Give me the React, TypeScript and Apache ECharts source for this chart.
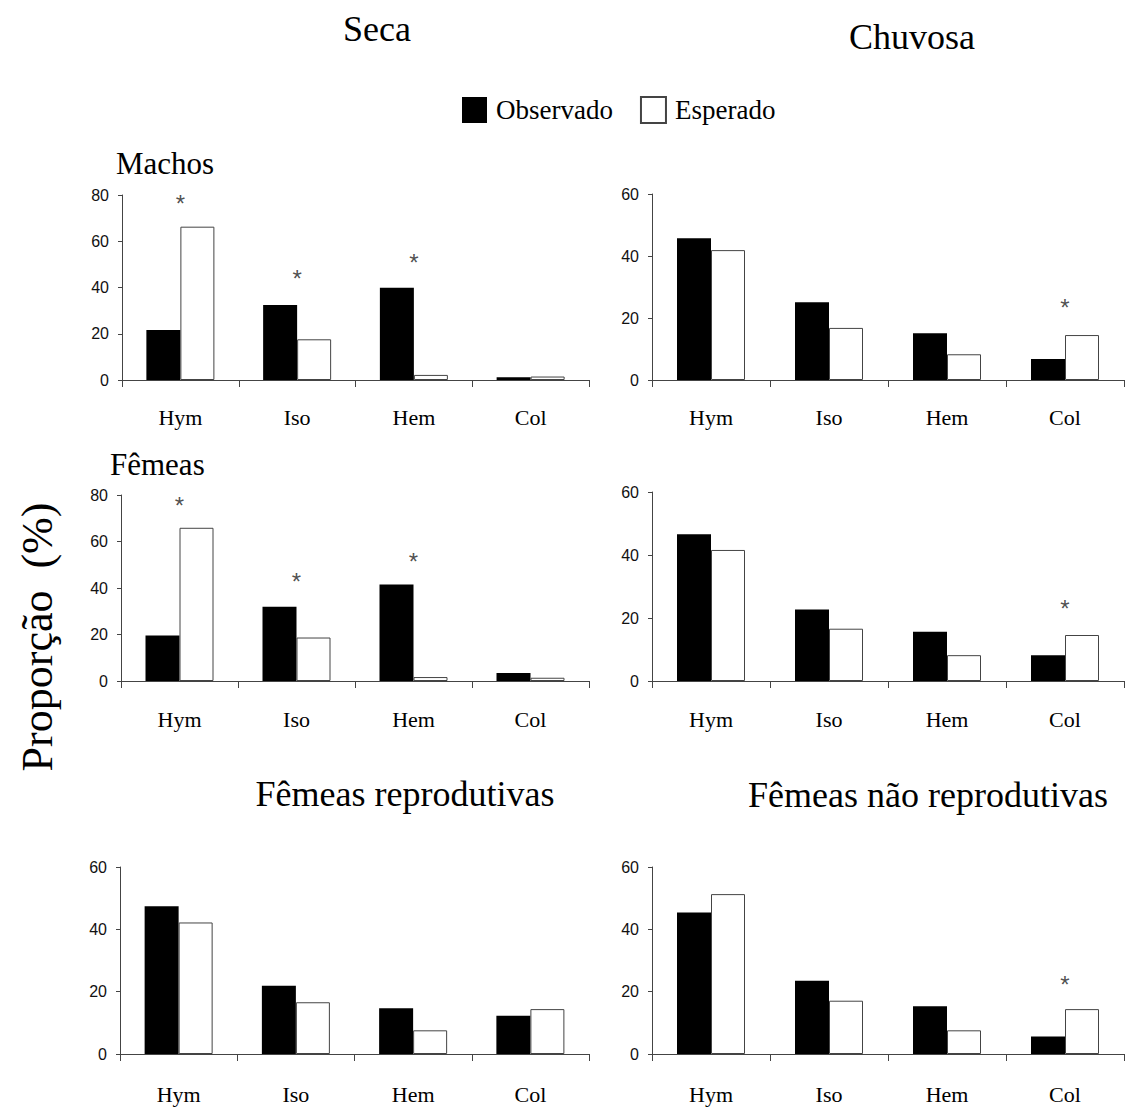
import React, { useEffect, useRef } from "react";
import * as echarts from "echarts";

const categories = ["Hym", "Iso", "Hem", "Col"];
const yTicks80 = [0, 20, 40, 60, 80];
const yTicks60 = [0, 20, 40, 60];

const machosSecaObs = [21.6, 32.4, 39.9, 1.2];
const machosSecaEsp = [66.3, 17.6, 2.2, 1.5];
const machosChuvObs = [45.7, 25.1, 15.1, 6.8];
const machosChuvEsp = [41.9, 16.8, 8.3, 14.5];
const femeasSecaObs = [19.6, 31.9, 41.5, 3.4];
const femeasSecaEsp = [65.9, 18.7, 1.7, 1.4];
const femeasChuvObs = [46.6, 22.7, 15.6, 8.2];
const femeasChuvEsp = [41.6, 16.6, 8.2, 14.6];
const reprodObs = [47.4, 21.9, 14.7, 12.3];
const reprodEsp = [42.2, 16.6, 7.6, 14.4];
const naoReprodObs = [45.4, 23.5, 15.3, 5.6];
const naoReprodEsp = [51.3, 17.1, 7.6, 14.4];

// significance markers: [category, height]
const machosSecaStars = [["Hym", 77.8], ["Iso", 45], ["Hem", 52]];
const machosChuvStars = [["Col", 24.2]];
const femeasSecaStars = [["Hym", 76.6], ["Iso", 44.3], ["Hem", 52.9]];
const femeasChuvStars = [["Col", 24.1]];
const reprodStars: (string | number)[][] = [];
const naoReprodStars = [["Col", 23.2]];

const SERIF = "'Liberation Serif', 'Times New Roman', serif";
const SANS = "'Liberation Sans', Arial, sans-serif";

const panels = [
  { grid: { left: 122, top: 195, width: 467, height: 185 }, max: 80, ticks: yTicks80, obs: machosSecaObs, esp: machosSecaEsp, stars: machosSecaStars, labelMargin: 26 },
  { grid: { left: 652, top: 194, width: 472, height: 186 }, max: 60, ticks: yTicks60, obs: machosChuvObs, esp: machosChuvEsp, stars: machosChuvStars, labelMargin: 26 },
  { grid: { left: 121, top: 495, width: 468, height: 186 }, max: 80, ticks: yTicks80, obs: femeasSecaObs, esp: femeasSecaEsp, stars: femeasSecaStars, labelMargin: 27 },
  { grid: { left: 652, top: 492, width: 472, height: 189 }, max: 60, ticks: yTicks60, obs: femeasChuvObs, esp: femeasChuvEsp, stars: femeasChuvStars, labelMargin: 27 },
  { grid: { left: 120, top: 867, width: 469, height: 187 }, max: 60, ticks: yTicks60, obs: reprodObs, esp: reprodEsp, stars: reprodStars, labelMargin: 29 },
  { grid: { left: 652, top: 867, width: 472, height: 187 }, max: 60, ticks: yTicks60, obs: naoReprodObs, esp: naoReprodEsp, stars: naoReprodStars, labelMargin: 29 },
];

const AXIS_COLOR = "#444";

export default function App() {
  const ref = useRef<HTMLDivElement>(null);
  useEffect(() => {
    if (!ref.current) return;
    const chart = echarts.init(ref.current, undefined, { renderer: "svg" });
    const grids: any[] = [];
    const xAxes: any[] = [];
    const yAxes: any[] = [];
    const series: any[] = [];
    panels.forEach((p, i) => {
      grids.push({ ...p.grid, containLabel: false });
      xAxes.push({
        type: "category",
        gridIndex: i,
        data: categories,
        axisLine: { show: true, lineStyle: { color: AXIS_COLOR, width: 1 } },
        axisTick: { show: true, length: 7, lineStyle: { color: AXIS_COLOR } },
        axisLabel: { fontFamily: SERIF, fontSize: 22, color: "#000", margin: p.labelMargin },
        splitLine: { show: false },
      });
      yAxes.push({
        type: "value",
        gridIndex: i,
        min: 0,
        max: p.max,
        interval: 20,
        axisLine: { show: true, lineStyle: { color: AXIS_COLOR, width: 1 } },
        axisTick: { show: true, length: 4, lineStyle: { color: AXIS_COLOR } },
        axisLabel: { fontFamily: SANS, fontSize: 16, color: "#111", margin: 13 },
        splitLine: { show: false },
      });
      series.push({
        type: "bar",
        name: "Observado",
        xAxisIndex: i,
        yAxisIndex: i,
        data: p.obs,
        barWidth: 34,
        barGap: "0%",
        itemStyle: { color: "#000", borderColor: "#000", borderWidth: 0 },
      });
      series.push({
        type: "bar",
        name: "Esperado",
        xAxisIndex: i,
        yAxisIndex: i,
        data: p.esp,
        barWidth: 34,
        barGap: "0%",
        itemStyle: { color: "#fff", borderColor: "#444", borderWidth: 1 },
      });
      if (p.stars.length) {
        series.push({
          type: "scatter",
          xAxisIndex: i,
          yAxisIndex: i,
          data: p.stars,
          symbol: "circle",
          symbolSize: 1,
          itemStyle: { color: "rgba(0,0,0,0)" },
          silent: true,
          label: {
            show: true,
            position: "inside",
            formatter: "*",
            fontFamily: SANS,
            fontSize: 24,
            color: "#222",
            offset: [0, 3],
          },
        });
      }
    });

    const titleText = (text: string, x: number, y: number, size: number, align = "center") => ({
      type: "text",
      x,
      y,
      style: {
        text,
        fontFamily: SERIF,
        fontSize: size,
        fill: "#000",
        textAlign: align,
        textVerticalAlign: "middle",
      },
    });

    chart.setOption({
      animation: false,
      backgroundColor: "#fff",
      legend: {
        data: ["Observado", "Esperado"],
        left: 462,
        top: 96,
        padding: 0,
        itemWidth: 25,
        itemHeight: 26,
        itemGap: 27,
        icon: "rect",
        textStyle: { fontFamily: SERIF, fontSize: 27, color: "#000", padding: [0, 0, 0, 4] },
      },
      grid: grids,
      xAxis: xAxes,
      yAxis: yAxes,
      series,
      graphic: [
        titleText("Seca", 377, 29, 36),
        titleText("Chuvosa", 912, 37, 36),
        titleText("Machos", 116, 163, 31, "left"),
        titleText("Fêmeas", 110, 464, 31, "left"),
        titleText("Fêmeas reprodutivas", 405, 794, 36),
        titleText("Fêmeas não reprodutivas", 928, 795, 36),
        {
          type: "text",
          x: 37,
          y: 637,
          rotation: Math.PI / 2,
          style: {
            text: "Proporção  (%)",
            fontFamily: SERIF,
            fontSize: 44,
            fill: "#000",
            textAlign: "center",
            textVerticalAlign: "middle",
          },
        },
      ],
    });
    return () => chart.dispose();
  }, []);
  return (
    <div
      ref={ref}
      style={{ position: "absolute", left: 0, top: 0, width: 1137, height: 1108 }}
    />
  );
}
